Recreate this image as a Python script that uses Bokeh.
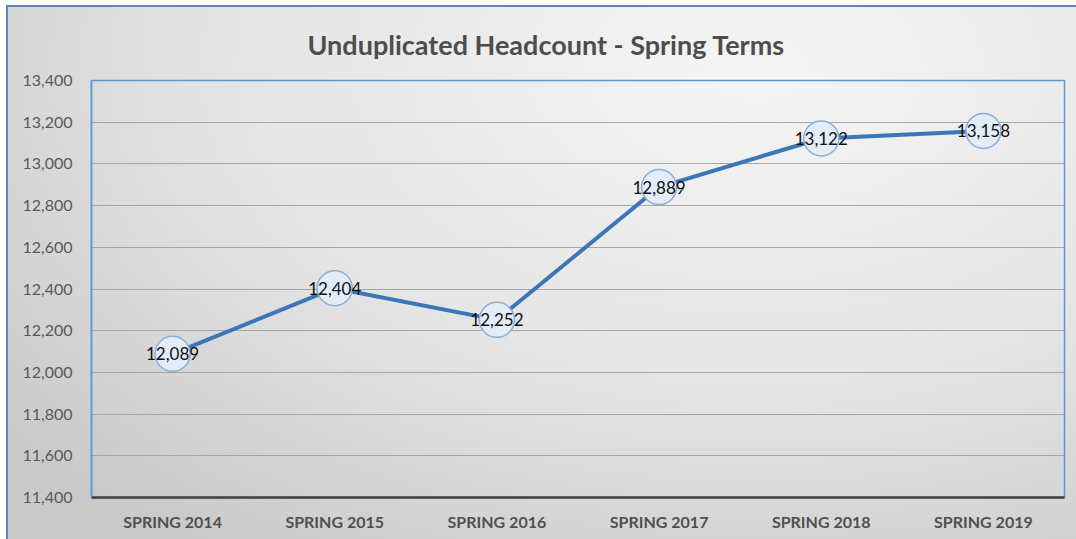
from bokeh.plotting import figure
from bokeh.models import ColumnDataSource, NumeralTickFormatter, FixedTicker, Range1d
from bokeh.core.properties import value
from bokeh.embed import file_html
from bokeh.resources import INLINE

title_text = "Unduplicated Headcount - Spring Terms"
terms = ["SPRING 2014", "SPRING 2015", "SPRING 2016", "SPRING 2017", "SPRING 2018", "SPRING 2019"]
headcount = [12089, 12404, 12252, 12889, 13122, 13158]
y_ticks = [11400, 11600, 11800, 12000, 12200, 12400, 12600, 12800, 13000, 13200, 13400]

labels = [f"{v:,}" for v in headcount]
src = ColumnDataSource(dict(x=terms, y=headcount, lab=labels))

FONT = "Lato"

p = figure(x_range=terms, y_range=Range1d(y_ticks[0], y_ticks[-1]),
           width=1070, height=534, output_backend="svg", toolbar_location=None,
           min_border_left=85, min_border_right=12, min_border_top=74, min_border_bottom=42,
           title=title_text)

p.border_fill_alpha = 0
p.background_fill_alpha = 0
p.styles = {
    "margin-left": "6px",
    "margin-top": "5px",
    "background": "radial-gradient(ellipse 90% 110% at 70% 12%, #f5f5f5 0%, #e4e4e4 55%, #c9c9c9 100%)",
    "box-shadow": "inset 2px 2px 0 0 #5b87be",
}

p.title.align = "left"
p.title.text_font = FONT
p.title.text_font_size = "27px"
p.title.text_color = "#4d4d4d"
p.title.text_font_style = "bold"
p.title.offset = 216
p.title.standoff = 40

p.outline_line_color = "#5f96cf"
p.outline_line_width = 1.5

p.xgrid.grid_line_color = None
p.ygrid.grid_line_color = "#a6a6a6"
p.ygrid.grid_line_width = 1

p.yaxis.ticker = FixedTicker(ticks=y_ticks)
p.yaxis.formatter = NumeralTickFormatter(format="0,0")
p.yaxis.axis_line_color = "#5f96cf"
p.yaxis.axis_line_width = 1.5
p.yaxis.major_tick_line_color = None
p.yaxis.minor_tick_line_color = None
p.yaxis.major_label_standoff = 13
p.yaxis.major_label_text_font = FONT
p.yaxis.major_label_text_font_size = "16px"
p.yaxis.major_label_text_color = "#595959"

p.xaxis.axis_line_color = "#404040"
p.xaxis.axis_line_width = 2.5
p.xaxis.major_tick_line_color = None
p.xaxis.minor_tick_line_color = None
p.xaxis.major_label_standoff = 8
p.xaxis.major_label_text_font = FONT
p.xaxis.major_label_text_font_size = "16px"
p.xaxis.major_label_text_font_style = "bold"
p.xaxis.major_label_text_color = "#505050"

p.line("x", "y", source=src, line_color="#3b76b8", line_width=4)
p.scatter("x", "y", source=src, size=35, fill_color="#e3edf8", line_color="#8cafd6", line_width=1.5)
p.text("x", "y", text="lab", source=src, text_align="center", text_baseline="middle",
       text_font=value(FONT), text_font_size="17px", text_color="#111111")

open("out.html", "w").write(file_html(p, INLINE))
